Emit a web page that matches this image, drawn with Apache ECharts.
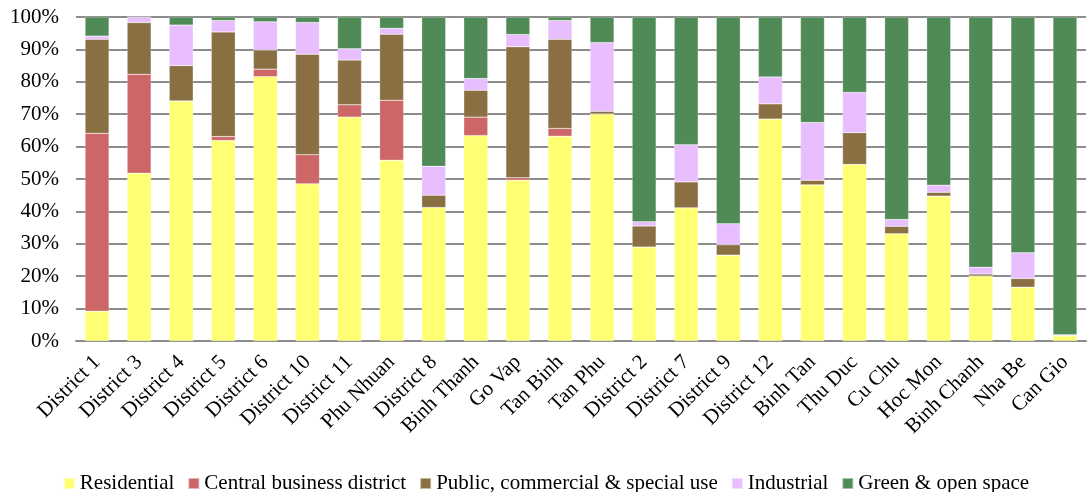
<!DOCTYPE html>
<html>
<head>
<meta charset="utf-8">
<script src="https://cdn.jsdelivr.net/npm/echarts@6/dist/echarts.min.js"></script>
<style>html,body{margin:0;padding:0;background:#fff;}#c{width:1092px;height:492px;}</style>
</head>
<body>
<div id="c"></div>
<script>
const categories = ["District 1","District 3","District 4","District 5","District 6","District 10","District 11","Phu Nhuan","District 8","Binh Thanh","Go Vap","Tan Binh","Tan Phu","District 2","District 7","District 9","District 12","Binh Tan","Thu Duc","Cu Chu","Hoc Mon","Binh Chanh","Nha Be","Can Gio"];
const residential = [9.2,51.8,74.1,61.9,81.6,48.5,69.1,55.8,41.2,63.4,49.6,63.2,70.1,29.0,41.1,26.5,68.5,48.2,54.5,33.1,44.7,20.1,16.6,1.6];
const cbd         = [54.9,30.5,0,1.2,2.3,9.0,3.8,18.5,0,5.7,0.8,2.4,0,0,0,0,0,0,0,0,0,0,0,0];
const publicUse   = [29.0,16.0,10.9,32.3,5.9,31.0,13.8,20.4,3.8,8.3,40.4,27.5,0.8,6.5,8.0,3.2,4.7,1.4,9.8,2.3,1.2,0.6,2.7,0.2];
const industrial  = [1.0,1.7,12.5,3.5,8.7,9.8,3.5,1.8,8.9,3.6,3.8,5.8,21.2,1.3,11.5,6.5,8.3,17.8,12.4,2.1,2.2,2.1,7.9,0.1];
const green       = [5.9,0,2.5,1.1,1.5,1.7,9.8,3.5,46.1,19.0,5.4,1.1,7.9,63.2,39.4,63.8,18.5,32.6,23.3,62.5,51.9,77.2,72.8,98.1];
const yTicks = [0,10,20,30,40,50,60,70,80,90,100];

const seriesDefs = [
  {name:"Residential", data:residential, color:"#FFFF73"},
  {name:"Central business district", data:cbd, color:"#CD6666"},
  {name:"Public, commercial & special use", data:publicUse, color:"#8A6F43"},
  {name:"Industrial", data:industrial, color:"#E8BEFF"},
  {name:"Green & open space", data:green, color:"#508A56"}
];
const font = "Liberation Serif, Times New Roman, serif";
const chart = echarts.init(document.getElementById('c'));
chart.setOption({
  animation:false,
  backgroundColor:'#fff',
  grid:{left:76,right:6,top:17,bottom:151,containLabel:false},
  legend:{
    top:468, left:'center', itemWidth:11, itemHeight:11, itemGap:13, icon:'rect',
    textStyle:{fontFamily:font,fontSize:21,color:'#000'},
    data:seriesDefs.map(s=>s.name)
  },
  xAxis:{
    type:'category', data:categories,
    axisLine:{lineStyle:{color:'#8c8c8c',width:2}},
    axisTick:{show:false},
    axisLabel:{rotate:45, interval:0, fontFamily:font, fontSize:21, color:'#000', margin:18}
  },
  yAxis:{
    type:'value', min:0, max:100, interval:10,
    axisLine:{show:false}, axisTick:{show:false},
    splitLine:{lineStyle:{color:'#8c8c8c',width:2}},
    axisLabel:{formatter:v=>yTicks.includes(v)?v+'%':'', fontFamily:font, fontSize:21, color:'#000', margin:17}
  },
  series: seriesDefs.map(s=>({
    name:s.name, type:'bar', stack:'total', data:s.data,
    barWidth:24,
    itemStyle:{color:s.color, borderColor:'rgba(255,255,255,0.5)', borderWidth:0.5}
  }))
});
</script>
</body>
</html>
